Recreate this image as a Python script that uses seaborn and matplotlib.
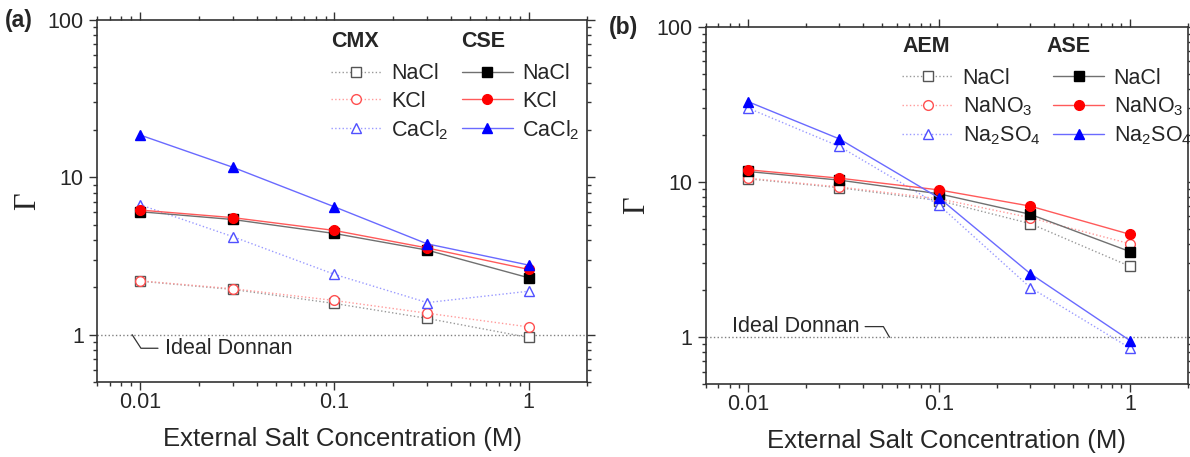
import numpy as np
import pandas as pd
import matplotlib
matplotlib.use("Agg")
import matplotlib.pyplot as plt
import seaborn as sns
from matplotlib.ticker import FixedLocator, FuncFormatter, LogLocator, NullFormatter

# === data ===
conc = [0.01, 0.03, 0.1, 0.3, 1.0]

# panel (a)
cmx_nacl = [2.19, 1.94, 1.58, 1.27, 0.96]
cmx_kcl = [2.20, 1.96, 1.65, 1.37, 1.12]
cmx_cacl2 = [6.7, 4.2, 2.42, 1.60, 1.89]
cse_nacl = [6.05, 5.4, 4.4, 3.45, 2.3]
cse_kcl = [6.2, 5.55, 4.6, 3.56, 2.6]
cse_cacl2 = [18.6, 11.6, 6.5, 3.78, 2.77]

# panel (b)
aem_nacl = [10.5, 9.2, 7.6, 5.4, 2.86]
aem_nano3 = [10.6, 9.3, 7.8, 5.9, 4.0]
aem_na2so4 = [30.0, 17.0, 7.1, 2.09, 0.85]
ase_nacl = [11.7, 10.3, 8.4, 6.2, 3.56]
ase_nano3 = [12.0, 10.6, 8.9, 7.0, 4.6]
ase_na2so4 = [33.0, 19.0, 7.9, 2.57, 0.95]

labels_a = ["NaCl", "KCl", "CaCl$_2$"]
labels_b = ["NaCl", "NaNO$_3$", "Na$_2$SO$_4$"]

# === style ===
sns.set_style("ticks")
plt.rcParams["font.family"] = ["Liberation Sans", "DejaVu Sans"]
plt.rcParams["mathtext.fontset"] = "custom"
plt.rcParams["mathtext.rm"] = "Liberation Sans"
plt.rcParams["mathtext.default"] = "regular"

open_style = [
    dict(marker="s", color="#999999", mec="#555555"),
    dict(marker="o", color="#ff9a9a", mec="#ff5050"),
    dict(marker="^", color="#9a9aff", mec="#5050ff"),
]
filled_style = [
    dict(marker="s", color="#707070", mfc="black", mec="black"),
    dict(marker="o", color="#ff5a5a", mfc="red", mec="red"),
    dict(marker="^", color="#6a6aff", mfc="blue", mec="blue"),
]

fig = plt.figure(figsize=(11.9, 4.57), dpi=100)
ax_a = fig.add_axes([0.0815, 0.164, 0.412, 0.792])
ax_b = fig.add_axes([0.593, 0.160, 0.405, 0.781])


def draw_panel(ax, open_data, filled_data, labels):
    for vals, st, lab in zip(open_data, open_style, labels):
        df = pd.DataFrame({"c": conc, "g": vals})
        sns.lineplot(data=df, x="c", y="g", ax=ax, sort=False, errorbar=None,
                     color=st["color"], linestyle=":", linewidth=1.0,
                     marker=st["marker"], markersize=7, mfc="white",
                     mec=st["mec"], mew=1.0, label=lab)
    for vals, st, lab in zip(filled_data, filled_style, labels):
        df = pd.DataFrame({"c": conc, "g": vals})
        sns.lineplot(data=df, x="c", y="g", ax=ax, sort=False, errorbar=None,
                     color=st["color"], linestyle="-", linewidth=1.0,
                     marker=st["marker"], markersize=7, mfc=st["mfc"],
                     mec=st["mec"], mew=1.0, label=lab)
    # ideal Donnan reference
    ax.axhline(1.0, color="#808080", linestyle=":", linewidth=1.0, zorder=0)

    ax.set_xscale("log")
    ax.set_yscale("log")
    ax.set_xlim(0.006, 2)
    ax.set_ylim(0.5, 100)
    ax.xaxis.set_major_locator(FixedLocator([0.01, 0.1, 1]))
    ax.yaxis.set_major_locator(FixedLocator([1, 10, 100]))
    ax.xaxis.set_major_formatter(FuncFormatter(lambda v, p: "%g" % v))
    ax.yaxis.set_major_formatter(FuncFormatter(lambda v, p: "%g" % v))
    for axis in (ax.xaxis, ax.yaxis):
        axis.set_minor_locator(LogLocator(base=10, subs=np.arange(2, 10)))
        axis.set_minor_formatter(NullFormatter())
    ax.tick_params(which="both", direction="out", top=True, right=True,
                   labelsize=15.5, color="#333333", width=1.0)
    ax.tick_params(which="major", length=6)
    ax.tick_params(which="minor", length=3)
    ax.tick_params(axis="x", which="major", pad=1.5)
    for sp in ax.spines.values():
        sp.set_visible(True)
        sp.set_linewidth(1.2)
        sp.set_color("#333333")
    ax.set_xlabel("External Salt Concentration (M)", fontsize=18.5, labelpad=10)
    ax.set_ylabel("Γ", fontsize=22, family="Liberation Serif", labelpad=4)
    return ax


# === panel (a) ===
draw_panel(ax_a, [cmx_nacl, cmx_kcl, cmx_cacl2],
           [cse_nacl, cse_kcl, cse_cacl2], labels_a)
leg = ax_a.legend(ncol=2, loc="upper left", bbox_to_anchor=(0.46, 0.905),
                  frameon=False, fontsize=15.5, handlelength=2.35,
                  handletextpad=0.45, columnspacing=0.6, labelspacing=0.3,
                  borderaxespad=0)
ax_a.text(0.478, 0.94, "CMX", transform=ax_a.transAxes, fontsize=15.5,
          fontweight="bold", va="center", ha="left")
ax_a.text(0.743, 0.94, "CSE", transform=ax_a.transAxes, fontsize=15.5,
          fontweight="bold", va="center", ha="left")
ax_a.annotate("Ideal Donnan", xy=(0.0091, 1.0), xytext=(0.0135, 0.82),
              fontsize=15.5, va="center", ha="left",
              arrowprops=dict(arrowstyle="-", color="#333333", lw=0.9,
                              shrinkA=3, shrinkB=0,
                              connectionstyle="angle,angleA=0,angleB=-57,rad=0"))
fig.text(0.004, 0.955, "(a)", fontsize=16.5, fontweight="bold", va="center")

# === panel (b) ===
draw_panel(ax_b, [aem_nacl, aem_nano3, aem_na2so4],
           [ase_nacl, ase_nano3, ase_na2so4], labels_b)
leg = ax_b.legend(ncol=2, loc="upper left", bbox_to_anchor=(0.39, 0.91),
                  frameon=False, fontsize=15.5, handlelength=2.35,
                  handletextpad=0.45, columnspacing=0.6, labelspacing=0.3,
                  borderaxespad=0)
ax_b.text(0.408, 0.945, "AEM", transform=ax_b.transAxes, fontsize=15.5,
          fontweight="bold", va="center", ha="left")
ax_b.text(0.708, 0.945, "ASE", transform=ax_b.transAxes, fontsize=15.5,
          fontweight="bold", va="center", ha="left")
ax_b.annotate("Ideal Donnan", xy=(0.055, 1.0), xytext=(0.0082, 1.17),
              fontsize=15.5, va="center", ha="left",
              arrowprops=dict(arrowstyle="-", color="#333333", lw=0.9,
                              shrinkA=2, shrinkB=0,
                              connectionstyle="angle,angleA=0,angleB=-60,rad=0"))
fig.text(0.512, 0.94, "(b)", fontsize=16.5, fontweight="bold", va="center")

fig.savefig("out.png", dpi=100)
